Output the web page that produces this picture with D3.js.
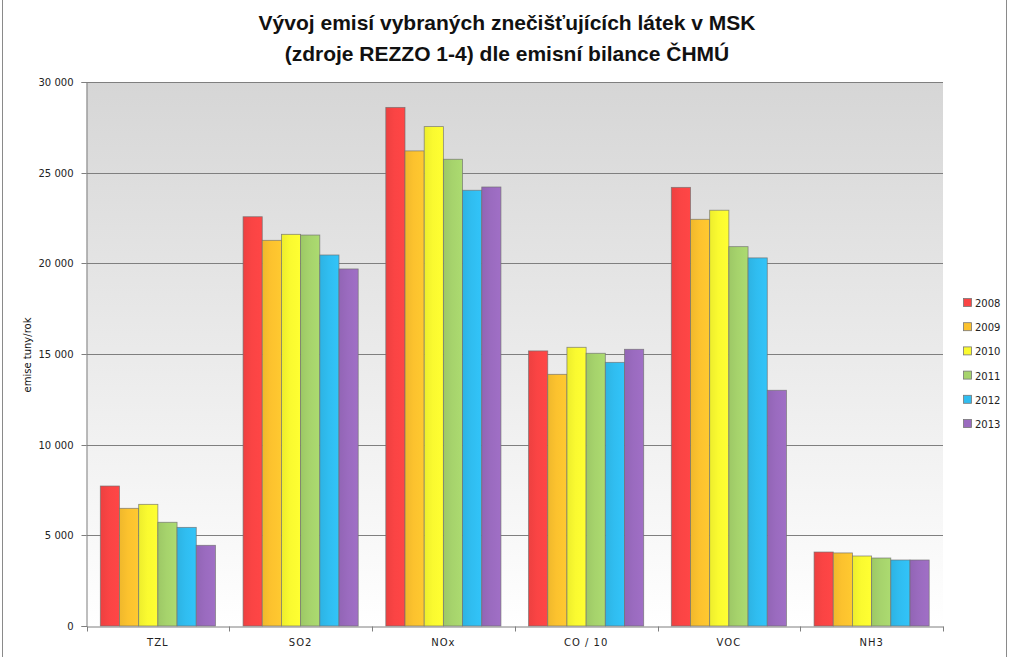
<!DOCTYPE html>
<html><head><meta charset="utf-8">
<script src="https://cdn.jsdelivr.net/npm/d3@7/dist/d3.min.js"></script>
<style>body{margin:0;background:#fff}svg{display:block}</style>
</head><body>
<svg id="c" width="1013" height="657"></svg>
<script>
const categories = ["TZL","SO2","NOx","CO / 10","VOC","NH3"];
const years = ["2008","2009","2010","2011","2012","2013"];
const v2008 = [7720, 22570, 28600, 15170, 24190, 4080];
const v2009 = [6490, 21270, 26200, 13880, 22430, 4030];
const v2010 = [6710, 21600, 27540, 15370, 22930, 3860];
const v2011 = [5720, 21560, 25740, 15040, 20920, 3750];
const v2012 = [5440, 20460, 24030, 14540, 20300, 3640];
const v2013 = [4450, 19690, 24210, 15260, 13000, 3640];
const yTicks = [0, 5000, 10000, 15000, 20000, 25000, 30000];
const colors = ["#fa4444","#fcc22e","#fafa30","#a6d36c","#30bdf0","#9a6bbf"];
const series = [v2008,v2009,v2010,v2011,v2012,v2013];

const svg = d3.select("#c");
const L = 86.5, R = 943, T = 82, B = 626;

const defs = svg.append("defs");
const bg = defs.append("linearGradient").attr("id","bg").attr("x1",0).attr("y1",0).attr("x2",0).attr("y2",1);
bg.append("stop").attr("offset","0%").attr("stop-color","#d6d6d6");
bg.append("stop").attr("offset","100%").attr("stop-color","#ffffff");
colors.forEach((c,i)=>{
  const g = defs.append("linearGradient").attr("id","g"+i).attr("x1",0).attr("y1",0).attr("x2",1).attr("y2",0);
  g.append("stop").attr("offset","0%").attr("stop-color",d3.color(c).darker(0.15));
  g.append("stop").attr("offset","45%").attr("stop-color",c);
  g.append("stop").attr("offset","100%").attr("stop-color",d3.color(c).brighter(0.1));
});

// outer border
svg.append("line").attr("x1",2.5).attr("x2",2.5).attr("y1",0).attr("y2",657).attr("stroke","#8a8a8a");
svg.append("line").attr("x1",1006.5).attr("x2",1006.5).attr("y1",0).attr("y2",657).attr("stroke","#8a8a8a");

const x0 = d3.scaleBand().domain(categories).range([L, R]).paddingInner(0).paddingOuter(0);
const x1 = d3.scaleBand().domain(years).range([0, x0.bandwidth()]).paddingInner(0).paddingOuter(0.72);
const y = d3.scaleLinear().domain([0, 30000]).range([B, T]);

svg.append("rect").attr("x",L).attr("y",T).attr("width",R-L).attr("height",B-T).attr("fill","url(#bg)");

// gridlines
svg.append("g").selectAll("line").data(yTicks.filter(d=>d>0)).join("line")
  .attr("x1",L).attr("x2",R).attr("y1",d=>Math.round(y(d))+0.5).attr("y2",d=>Math.round(y(d))+0.5)
  .attr("stroke","#7f7f7f").attr("stroke-width",1);

// bars
const g = svg.append("g");
categories.forEach((cat,ci)=>{
  series.forEach((s,si)=>{
    g.append("rect")
      .attr("x", x0(cat)+x1(years[si]))
      .attr("y", y(s[ci]))
      .attr("width", x1.bandwidth())
      .attr("height", B - y(s[ci]))
      .attr("fill","url(#g"+si+")")
      .attr("stroke","#6f6f6f").attr("stroke-width",0.8).attr("stroke-opacity",0.8);
  });
});

// y axis
const ya = d3.axisLeft(y).tickValues(yTicks).tickSize(5).tickPadding(8)
  .tickFormat(d=>d3.format(",")(d).replace(/,/g," "));
const yg = svg.append("g").attr("transform",`translate(${L},0)`).call(ya);
yg.select(".domain").attr("stroke","#7f7f7f");
yg.selectAll(".tick line").attr("stroke","#7f7f7f");
yg.selectAll("text").attr("font-family","DejaVu Sans").attr("font-size",10).attr("fill","#222");
yg.selectAll(".tick").attr("transform",d=>`translate(0,${Math.round(y(d))+0.5})`);

// x axis
const xa = d3.axisBottom(x0).tickSize(0).tickPadding(12);
const xg = svg.append("g").attr("transform",`translate(0,${B+0.5})`).call(xa);
xg.select(".domain").attr("stroke","#7f7f7f");
xg.selectAll("text").attr("font-family","DejaVu Sans").attr("font-size",10).attr("fill","#222").attr("letter-spacing","1px");
const bounds = categories.map(c=>x0(c)).concat([R]);
xg.selectAll("line.sep").data(bounds).join("line").attr("class","sep")
  .attr("x1",d=>Math.round(d)+0.5).attr("x2",d=>Math.round(d)+0.5).attr("y1",0).attr("y2",5).attr("stroke","#7f7f7f");

// y axis title
svg.append("text").attr("transform","translate(31,355) rotate(-90)").attr("text-anchor","middle")
  .attr("font-family","DejaVu Sans").attr("font-size",10).attr("fill","#111").text("emise tuny/rok");

// title
const tt = svg.append("text").attr("text-anchor","middle").attr("font-family","'Liberation Sans', sans-serif")
  .attr("font-size",21).attr("font-weight","bold").attr("fill","#111");
tt.append("tspan").attr("x",507).attr("y",30).text("Vývoj emisí vybraných znečišťujících látek v MSK");
tt.append("tspan").attr("x",507).attr("y",61).text("(zdroje REZZO 1-4) dle emisní bilance ČHMÚ");

// legend
const lg = svg.append("g");
years.forEach((yr,i)=>{
  const yy = 303 + i*24.2;
  lg.append("rect").attr("x",963.5).attr("y",yy-4.5).attr("width",8).attr("height",8)
    .attr("fill",colors[i]).attr("stroke","#777").attr("stroke-width",0.8);
  lg.append("text").attr("x",975).attr("y",yy+4).attr("font-family","DejaVu Sans").attr("font-size",10).attr("fill","#222").text(yr);
});
</script>
</body></html>
